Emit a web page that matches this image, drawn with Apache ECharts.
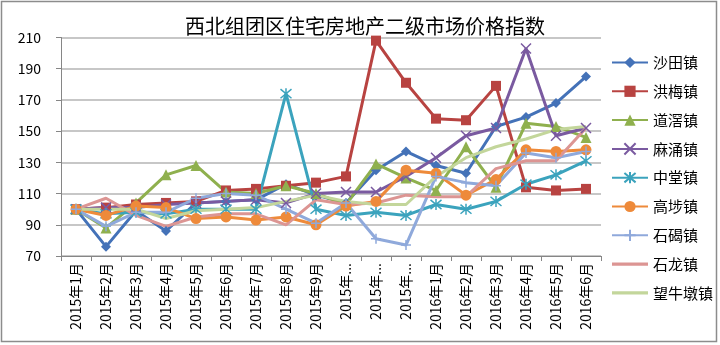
<!DOCTYPE html>
<html>
<head>
<meta charset="utf-8">
<script src="https://cdn.jsdelivr.net/npm/echarts@6/dist/echarts.min.js"></script>
<style>
  html, body { margin: 0; padding: 0; background: #fff; }
  #chart { width: 720px; height: 345px; }
</style>
</head>
<body>
<div id="chart"></div>
<script>
// Month categories (Jan 2015 - Jun 2016)
const months = [
  '2015年1月', '2015年2月', '2015年3月', '2015年4月', '2015年5月', '2015年6月',
  '2015年7月', '2015年8月', '2015年9月', '2015年10月', '2015年11月', '2015年12月',
  '2016年1月', '2016年2月', '2016年3月', '2016年4月', '2016年5月', '2016年6月'
];

// Price index per town (base month = 100)
const shatian    = [100, 76, 99, 86, 104, 105, 106, 116, 109, 104, 125, 137, 128, 123, 153, 159, 168, 185];
const hongmei    = [100, 101, 103, 104, 105, 112, 113, 115, 117, 121, 208, 181, 158, 157, 179, 114, 112, 113];
const daojiao    = [100, 88, 104, 122, 128, 111, 110, 115, 110, 103, 129, 120, 112, 140, 114, 155, 153, 146];
const machong    = [100, 101, 101, 103, 104, 105, 106, 104, 110, 111, 111, 121, 133, 147, 152, 203, 147, 152];
const zhongtang  = [100, 97, 98, 97, 100, 100, 100, 174, 100, 96, 98, 96, 103, 100, 105, 116, 122, 131];
const gaobu      = [100, 96, 102, 101, 94, 95, 93, 95, 90, 102, 105, 125, 123, 109, 119, 138, 137, 138];
const shijie     = [100, 89, 98, 98, 107, 110, 109, 100, 91, 104, 81, 77, 121, 117, 115, 136, 133, 137];
const shilong    = [100, 107, 96, 89, 95, 97, 97, 90, 106, 103, 104, 109, 108, 108, 126, 131, 131, 152];
const wangniudun = [100, 100, 100, 94, 99, 100, 101, 105, 109, 105, 103, 103, 121, 133, 140, 145, 151, 153];

// Y axis range
const yMin = 70, yMax = 210, yStep = 20;

const chart = echarts.init(document.getElementById('chart'), null, { renderer: 'canvas' });

const FONT = '"Noto Sans CJK SC", "Noto Sans", sans-serif';

const crossPath = 'path://M0,0L10,10M10,0L0,10';
const starPath = 'path://M0,0L10,10M10,0L0,10M5,-1L5,11';
const plusPath = 'path://M5,0L5,10M0,5L10,5';
// plain line icon for series drawn without markers
const barIcon = 'path://M0,0L40,0L40,3.4L0,3.4Z';

function makeSeries(name, data, color, symbol, size, stroked) {
  const s = {
    name: name,
    type: 'line',
    data: data,
    symbol: symbol,
    symbolSize: size,
    showSymbol: symbol !== 'none',
    lineStyle: { color: color, width: 3 },
    itemStyle: { color: color },
    emphasis: { disabled: true },
    animation: false
  };
  if (stroked) {
    s.itemStyle = { color: color, borderColor: color, borderWidth: 1.5 };
  }
  return s;
}

const option = {
  backgroundColor: '#ffffff',
  animation: false,
  title: {
    text: '西北组团区住宅房地产二级市场价格指数',
    left: 360,
    textAlign: 'center',
    top: 11,
    textStyle: { fontFamily: FONT, fontSize: 20, fontWeight: 'normal', color: '#000' }
  },
  legend: {
    orient: 'vertical',
    left: 606,
    top: 50,
    itemWidth: 36,
    itemHeight: 14,
    itemGap: 13.8,
    textStyle: { fontFamily: FONT, fontSize: 15, color: '#000' },
    data: [
      '沙田镇', '洪梅镇', '道滘镇', '麻涌镇', '中堂镇', '高埗镇', '石碣镇',
      { name: '石龙镇', icon: barIcon },
      { name: '望牛墩镇', icon: barIcon }
    ]
  },
  grid: { left: 61, right: 119, top: 37.5, bottom: 89, containLabel: false },
  xAxis: {
    type: 'category',
    data: months,
    boundaryGap: true,
    axisLine: { lineStyle: { color: '#868686', width: 1 } },
    axisTick: { show: true, length: 5, lineStyle: { color: '#868686' } },
    axisLabel: {
      rotate: 90,
      margin: 7,
      interval: 0,
      fontFamily: FONT,
      fontSize: 14,
      color: '#000',
      formatter: function (v) { return v.length > 7 ? v.slice(0, 5) + '...' : v; }
    },
    splitLine: { show: false }
  },
  yAxis: {
    type: 'value',
    min: yMin,
    max: yMax,
    interval: yStep,
    axisLine: { show: true, lineStyle: { color: '#868686', width: 1 } },
    axisTick: { show: true, length: 5, lineStyle: { color: '#868686' } },
    axisLabel: { fontFamily: FONT, fontSize: 14, color: '#000', margin: 20 },
    splitLine: { show: true, lineStyle: { color: '#b5b5b5', width: 1.5 } }
  },
  graphic: [{
    type: 'rect',
    shape: { x: 1.5, y: 1.5, width: 715, height: 340 },
    style: { fill: 'none', stroke: '#8c8c8c', lineWidth: 1.5 },
    silent: true,
    z: -1
  }],
  series: [
    makeSeries('沙田镇', shatian, '#4472b8', 'diamond', 10),
    makeSeries('洪梅镇', hongmei, '#b84341', 'rect', 10),
    makeSeries('道滘镇', daojiao, '#8fb04e', 'triangle', 11),
    makeSeries('麻涌镇', machong, '#7a5aa0', crossPath, 10, true),
    makeSeries('中堂镇', zhongtang, '#3ba3bd', starPath, 11, true),
    makeSeries('高埗镇', gaobu, '#ee8a3a', 'circle', 11),
    makeSeries('石碣镇', shijie, '#8fa9db', plusPath, 10, true),
    makeSeries('石龙镇', shilong, '#dc9593', 'none', 0),
    makeSeries('望牛墩镇', wangniudun, '#c3d69b', 'none', 0)
  ]
};

chart.setOption(option);
</script>
</body>
</html>
